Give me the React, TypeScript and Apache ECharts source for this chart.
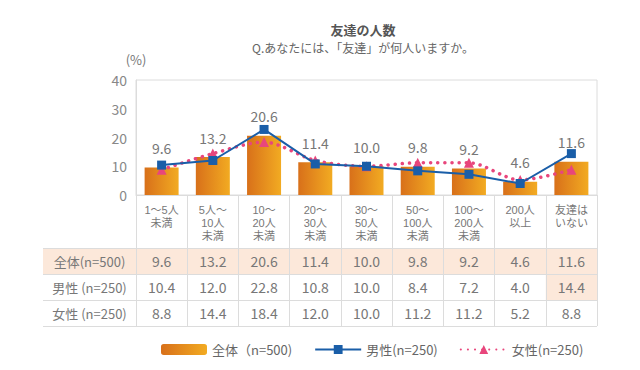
import React, { useEffect, useRef } from "react";
import * as echarts from "echarts";

const categories = [
  "1～5人\n未満",
  "5人～\n10人\n未満",
  "10～\n20人\n未満",
  "20～\n30人\n未満",
  "30～\n50人\n未満",
  "50～\n100人\n未満",
  "100～\n200人\n未満",
  "200人\n以上",
  "友達は\nいない",
];
const allValues = [9.6, 13.2, 20.6, 11.4, 10.0, 9.8, 9.2, 4.6, 11.6];
const maleValues = [10.4, 12.0, 22.8, 10.8, 10.0, 8.4, 7.2, 4.0, 14.4];
const femaleValues = [8.8, 14.4, 18.4, 12.0, 10.0, 11.2, 11.2, 5.2, 8.8];
const seriesNames = ["全体（n=500)", "男性(n=250)", "女性(n=250)"];
const rowLabels = ["全体(n=500)", "男性 (n=250)", "女性 (n=250)"];
const highlightedCells = [[1, 8]]; // [row, column]
const yTicks = { min: 0, max: 40, interval: 10 };

const FONT = "'Noto Sans CJK JP', 'Noto Sans', sans-serif";
const TIGHT_FONT = "'Liberation Sans', 'Noto Sans CJK JP', sans-serif";

export default function App() {
  const ref = useRef<HTMLDivElement>(null);
  useEffect(() => {
    if (!ref.current) return;
    const chart = echarts.init(ref.current, null, { renderer: "svg" });
    const W = 640;
    const gridLeft = 136;
    const gridRight = 597;
    const gridTop = 80;
    const axisY = 195;
    const tableLeft = 43;
    const rowTops = [248, 274, 300, 326];
    const colW = (gridRight - gridLeft) / categories.length;
    const rows = [allValues, maleValues, femaleValues];
    const lineColor = "#dcdcdc";
    const peach = "#fce8da";

    const graphics: any[] = [];
    graphics.push({
      type: "rect",
      z: -1,
      shape: { x: tableLeft, y: rowTops[0], width: gridRight - tableLeft, height: rowTops[1] - rowTops[0] },
      style: { fill: peach },
    });
    highlightedCells.forEach(([r, c]) => {
      graphics.push({
        type: "rect",
        z: -1,
        shape: { x: gridLeft + colW * c, y: rowTops[r], width: colW, height: rowTops[r + 1] - rowTops[r] },
        style: { fill: peach },
      });
    });
    rowTops.forEach((y) => {
      graphics.push({
        type: "line",
        shape: { x1: tableLeft, y1: y + 0.5, x2: gridRight, y2: y + 0.5 },
        style: { stroke: lineColor, lineWidth: 1 },
      });
    });
    rows.forEach((vals, r) => {
      const cy = (rowTops[r] + rowTops[r + 1]) / 2;
      graphics.push({
        type: "text",
        x: (tableLeft + gridLeft) / 2,
        y: cy,
        style: {
          text: rowLabels[r],
          fill: "#777",
          fontSize: 13,
          fontFamily: FONT,
          align: "center",
          verticalAlign: "middle",
        },
      });
      vals.forEach((v, c) => {
        graphics.push({
          type: "text",
          x: gridLeft + colW * (c + 0.5),
          y: cy,
          style: {
            text: v.toFixed(1),
            fill: "#777",
            fontSize: 14,
            fontFamily: FONT,
            align: "center",
            verticalAlign: "middle",
          },
        });
      });
    });

    const barGradient = new echarts.graphic.LinearGradient(0, 0, 1, 0, [
      { offset: 0, color: "#d8701a" },
      { offset: 1, color: "#f2ab22" },
    ]);

    chart.setOption({
      animation: false,
      textStyle: { fontFamily: FONT },
      title: {
        text: "友達の人数",
        subtext: "Q.あなたには、「友達」が何人いますか。",
        left: 358,
        top: 18,
        textAlign: "center",
        itemGap: 5,
        textStyle: { fontSize: 13, fontWeight: "bold", color: "#555", fontFamily: FONT },
        subtextStyle: { fontSize: 12, color: "#666", fontFamily: FONT },
      },
      grid: {
        left: gridLeft,
        right: W - gridRight,
        top: gridTop,
        bottom: 370 - axisY,
        show: true,
        borderColor: lineColor,
        borderWidth: 1,
      },
      legend: {
        left: 156,
        top: 338,
        itemWidth: 46,
        itemHeight: 11,
        itemGap: 22,
        textStyle: { fontSize: 13, color: "#666", fontFamily: FONT },
        data: seriesNames,
      },
      xAxis: {
        type: "category",
        data: categories,
        axisLine: { lineStyle: { color: lineColor } },
        axisTick: { show: true, length: rowTops[3] - axisY, lineStyle: { color: lineColor } },
        axisLabel: {
          color: "#777",
          fontSize: 11,
          lineHeight: 13,
          margin: 8,
          verticalAlign: "top",
          fontFamily: TIGHT_FONT,
        },
      },
      yAxis: {
        type: "value",
        min: yTicks.min,
        max: yTicks.max,
        interval: yTicks.interval,
        name: "(%)",
        nameGap: 14,
        nameTextStyle: { color: "#777", fontSize: 13, align: "center", fontFamily: FONT },
        axisLine: { show: true, lineStyle: { color: lineColor } },
        axisTick: { show: false },
        splitLine: { show: false },
        axisLabel: { color: "#888", fontSize: 14, margin: 9, fontFamily: FONT },
      },
      series: [
        {
          name: seriesNames[0],
          type: "bar",
          data: allValues,
          barWidth: 34,
          itemStyle: { color: barGradient },
          label: {
            show: true,
            position: "top",
            distance: 12.5,
            color: "#777",
            fontSize: 14,
            fontFamily: FONT,
            formatter: (p: any) => Number(p.value).toFixed(1),
          },
          z: 1,
        },
        {
          name: seriesNames[2],
          type: "line",
          data: femaleValues,
          symbol: "triangle",
          symbolSize: 10,
          smooth: 0.3,
          itemStyle: { color: "#e8467c" },
          lineStyle: { color: "#e8467c", width: 3.5, type: [0.1, 7], cap: "round" },
          z: 3,
        },
        {
          name: seriesNames[1],
          type: "line",
          data: maleValues,
          symbol: "rect",
          symbolSize: 9,
          itemStyle: { color: "#1a5ea8" },
          lineStyle: { color: "#1a5ea8", width: 2 },
          z: 4,
        },
      ],
      graphic: graphics,
    });
    return () => chart.dispose();
  }, []);
  return (
    <div
      ref={ref}
      style={{ position: "fixed", left: 0, top: 0, width: 640, height: 370, background: "#fff" }}
    />
  );
}
